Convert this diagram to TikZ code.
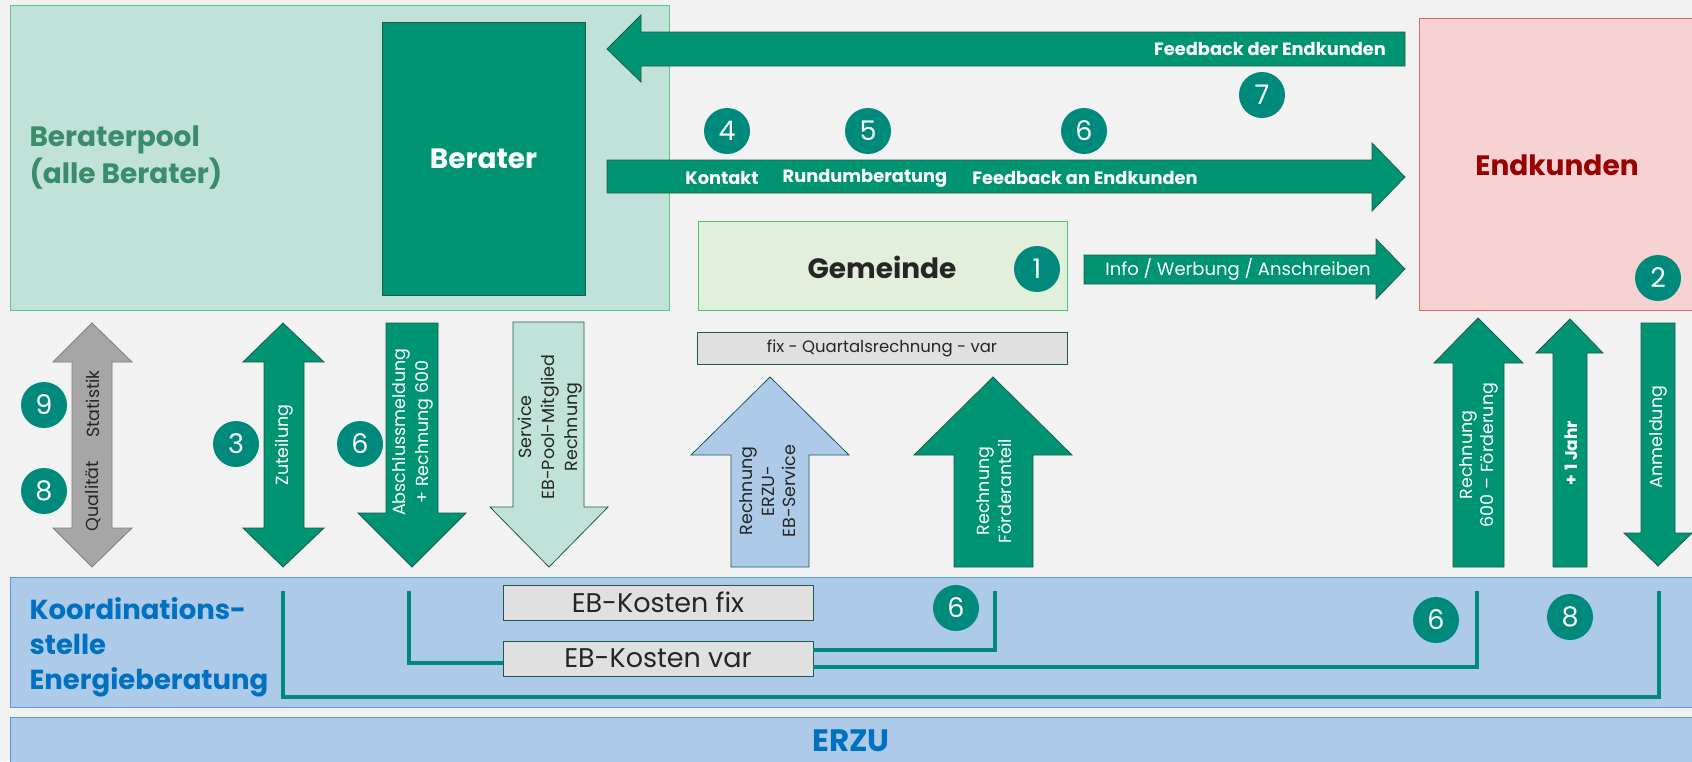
\documentclass[tikz,border=0pt]{standalone}
\usepackage{fontspec}
\setmainfont{Poppins}
\definecolor{bgc}{HTML}{F2F2F2}
\definecolor{dgreen}{HTML}{009473}
\definecolor{dborder}{HTML}{1E5B4C}
\definecolor{numc}{HTML}{008A7B}
\definecolor{poolfill}{HTML}{C1E2D8}
\definecolor{poolline}{HTML}{5CC58A}
\definecolor{poolt}{HTML}{3B8B6D}
\definecolor{gemfill}{HTML}{E2EFDA}
\definecolor{gemline}{HTML}{4DC47C}
\definecolor{endfill}{HTML}{F6D2D3}
\definecolor{endline}{HTML}{E06868}
\definecolor{endt}{HTML}{990000}
\definecolor{bluefill}{HTML}{ADCBE9}
\definecolor{blueline}{HTML}{5B9BD5}
\definecolor{bluet}{HTML}{0070C0}
\definecolor{grayarr}{HTML}{A6A6A6}
\definecolor{grayline}{HTML}{7F7F7F}
\definecolor{boxgray}{HTML}{E0E0E0}
\definecolor{linec}{HTML}{00897B}
\definecolor{darkt}{HTML}{262626}
\newcommand{\myfs}[2]{\fontsize{#1}{#2}\selectfont}
\begin{document}
\begin{tikzpicture}[x=1pt,y=-1pt,
  num/.style={circle, fill=numc, text=white, minimum size=46pt, inner sep=0pt, font=\myfs{27}{30}},
  garrow/.style={fill=dgreen, draw=dborder, line width=0.8pt},
  link/.style={draw=linec, line width=3.5pt, line join=miter},
  wlab/.style={text=white, font=\bfseries\myfs{17.8}{20}, inner sep=1pt},
  vlab/.style={rotate=90, align=center, font=\myfs{17.5}{23}, inner sep=0pt},
  gbox/.style={draw=dborder, fill=boxgray, line width=0.8pt, inner sep=0pt, text=darkt},
  big/.style={font=\bfseries\myfs{28}{37}}
]
\useasboundingbox (0,0) rectangle (1692,761);
\fill[bgc] (0,0) rectangle (1692,761);

% ---------- top boxes ----------
\node[draw=poolline, fill=poolfill, line width=1pt, minimum width=659pt, minimum height=305pt, inner sep=0pt] (pool) at (339.5,157.5) {};
\node[big, text=poolt, anchor=west, align=left] (pooltxt) at (26,158) {Beraterpool\\(alle Berater)};
\node[draw=dborder, fill=dgreen, line width=0.8pt, minimum width=203pt, minimum height=273pt, inner sep=0pt, text=white, big] (ber) at (483.5,158.5) {Berater};

\node[draw=endline, fill=endfill, line width=1pt, minimum width=280pt, minimum height=292pt, inner sep=0pt, anchor=north west] (end) at (1419,18) {};
\node[big, text=endt] (endtxt) at (1557,165) {Endkunden};

\node[draw=gemline, fill=gemfill, line width=1pt, minimum width=369pt, minimum height=89pt, inner sep=0pt] (gem) at (882.5,265.5) {};
\node[big, text=darkt] (gemtxt) at (882,267) {Gemeinde};

% ---------- horizontal arrows ----------
\path[garrow] (607,49) -- (641,15) -- (641,32) -- (1405,32) -- (1405,66) -- (641,66) -- (641,82) -- cycle;
\node[wlab] (fbd) at (1270,49) {Feedback der Endkunden};

\path[garrow] (607,160) -- (1372,160) -- (1372,143) -- (1405,177) -- (1372,211) -- (1372,193) -- (607,193) -- cycle;
\node[wlab] (kon) at (722,178) {Kontakt};
\node[wlab] (rund) at (865,178) {Rundumberatung};
\node[wlab] (fba) at (1085,178) {Feedback an Endkunden};

\path[garrow] (1084,255) -- (1376,255) -- (1376,239) -- (1405,269) -- (1376,299) -- (1376,284) -- (1084,284) -- cycle;
\node[text=white, font=\myfs{18}{20}] (info) at (1238,269) {Info / Werbung / Anschreiben};

% ---------- Quartalsrechnung ----------
\node[gbox, minimum width=370pt, minimum height=32pt, font=\myfs{16.5}{20}] (quart) at (882,348) {fix - Quartalsrechnung - var};

% ---------- vertical arrows ----------
\path[fill=grayarr, draw=grayline, line width=0.8pt] (92,323) -- (132,362) -- (112,362) -- (112,528) -- (132,528) -- (92,567) -- (53,528) -- (72,528) -- (72,362) -- (53,362) -- cycle;
\node[vlab, text=darkt] (qual) at (93,496) {Qualität};
\node[vlab, text=darkt] (stat) at (93,404) {Statistik};

\path[garrow] (283,323) -- (324,362) -- (304,362) -- (304,528) -- (324,528) -- (283,567) -- (243,528) -- (264,528) -- (264,362) -- (243,362) -- cycle;
\node[vlab, text=white] (zut) at (284,445) {Zuteilung};

\path[garrow] (386,323) -- (438,323) -- (438,513) -- (466,513) -- (412,567) -- (358,513) -- (386,513) -- cycle;
\node[vlab, text=white] (absch) at (413,432) {Abschlussmeldung\\+ Rechnung 600};

\path[fill=poolfill, draw=dborder, line width=0.8pt] (513,322) -- (584,322) -- (584,507) -- (608,507) -- (549,567) -- (490,507) -- (513,507) -- cycle;
\node[vlab, text=darkt] (serv) at (550,427) {Service\\EB-Pool-Mitglied\\Rechnung};

\path[fill=bluefill, draw=dborder, line width=0.8pt] (770,377) -- (849,455) -- (809,455) -- (809,567) -- (731,567) -- (731,455) -- (691,455) -- cycle;
\node[vlab, text=darkt, font=\myfs{17.5}{21.5}] (rerzu) at (768,491) {Rechnung\\ERZU-\\EB-Service};

\path[garrow] (993,377) -- (1072,455) -- (1033,455) -- (1033,567) -- (954,567) -- (954,455) -- (914,455) -- cycle;
\node[vlab, text=white, font=\myfs{17.5}{21.5}] (rfoer) at (994,491) {Rechnung\\Förderanteil};

\path[garrow] (1478,318) -- (1523,363) -- (1504,363) -- (1504,567) -- (1453,567) -- (1453,363) -- (1434,363) -- cycle;
\node[vlab, text=white, font=\myfs{17.5}{21.5}] (r600) at (1479,455) {Rechnung\\600 – Förderung};

\path[garrow] (1570,319) -- (1603,353) -- (1587,353) -- (1587,567) -- (1553,567) -- (1553,353) -- (1536,353) -- cycle;
\node[vlab, text=white, font=\bfseries\myfs{17}{20}] (jahr) at (1571,453) {+ 1 Jahr};

\path[garrow] (1641,323) -- (1675,323) -- (1675,533) -- (1692,533) -- (1658,566) -- (1624,533) -- (1641,533) -- cycle;
\node[vlab, text=white] (anm) at (1658,437) {Anmeldung};

% ---------- bottom boxes ----------
\node[draw=blueline, fill=bluefill, line width=1pt, minimum width=1690pt, minimum height=130pt, inner sep=0pt, anchor=north west] (koord) at (10,577) {};
\node[text=bluet, anchor=west, align=left, font=\bfseries\myfs{27.5}{35}] (koordtxt) at (26,647) {Koordinations-\\stelle\\Energieberatung};

\node[draw=blueline, fill=bluefill, line width=1pt, minimum width=1690pt, minimum height=45pt, inner sep=0pt, anchor=north west] (erzu) at (10,717) {};
\node[text=bluet, font=\bfseries\myfs{31}{35}] (erzutxt) at (851,741) {ERZU};

\coordinate (lA1) at (283,591);
\coordinate (lA2) at (1659,591);
\coordinate (lB) at (409,591);
\coordinate (lC) at (995,591);
\coordinate (lD) at (1477,591);

\node[gbox, minimum width=310pt, minimum height=35pt, font=\myfs{27}{30}] (fix) at (658,602.5) {EB-Kosten fix};
\node[gbox, minimum width=310pt, minimum height=35pt, font=\myfs{27}{30}] (var) at (658,658.5) {EB-Kosten var};

\draw[link] (lA1) -- ++(0,106) -| (lA2);
\draw[link] (lB) |- ([yshift=-4.5pt]var.west);
\draw[link] ([yshift=8.5pt]var.east) -| (lC);
\draw[link] ([yshift=-8.5pt]var.east) -| (lD);

% ---------- numbered circles ----------
\node[num] (n7) at (1262,95) {7};
\node[num] (n4) at (727,131) {4};
\node[num] (n5) at (868,131) {5};
\node[num] (n6a) at (1084,131) {6};
\node[num] (n1) at (1037,269) {1};
\node[num] (n2) at (1658,278) {2};
\node[num] (n9) at (44,405) {9};
\node[num] (n8a) at (44,491) {8};
\node[num] (n3) at (236,444) {3};
\node[num] (n6b) at (360,444) {6};
\node[num] (n6c) at (956,608) {6};
\node[num] (n6d) at (1436,620) {6};
\node[num] (n8b) at (1570,617) {8};
\end{tikzpicture}
\end{document}
